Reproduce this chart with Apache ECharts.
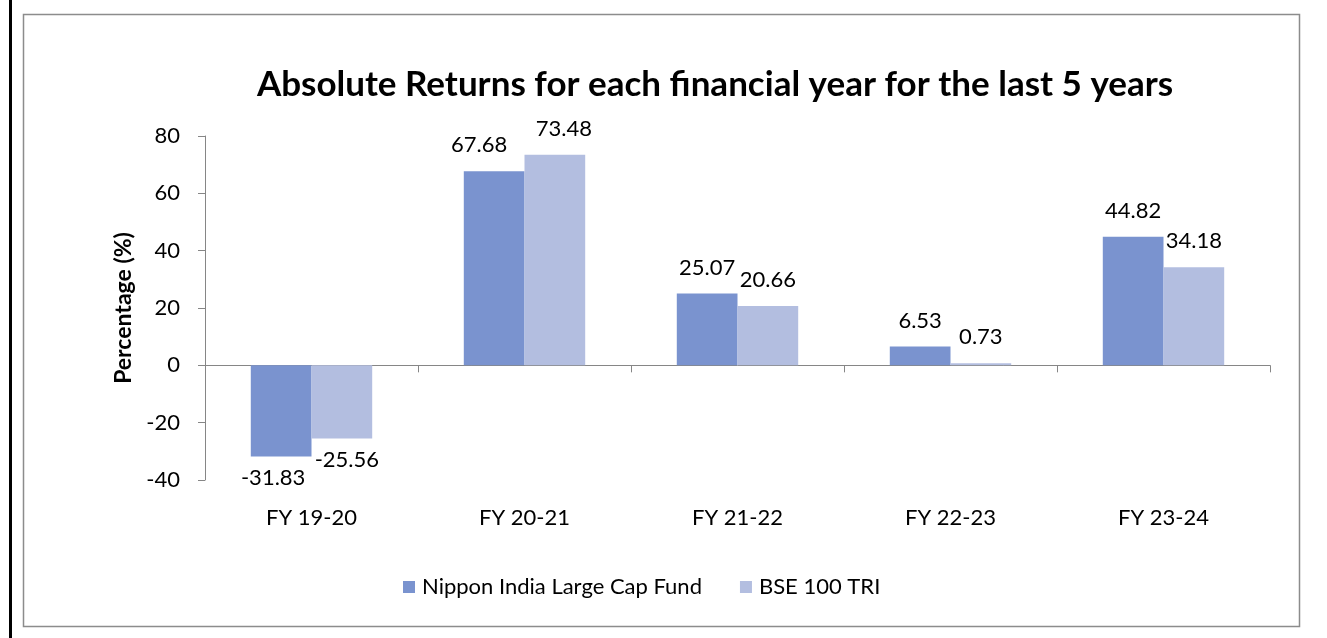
<!DOCTYPE html>
<html><head><meta charset="utf-8">
<script src="https://cdn.jsdelivr.net/npm/echarts@6/dist/echarts.min.js"></script>
<style>html,body{margin:0;padding:0;background:#fff}#c{width:1327px;height:638px}</style>
</head><body><div id="c"></div>
<script>
const categories = ['FY 19-20','FY 20-21','FY 21-22','FY 22-23','FY 23-24'];
const nipponValues = [-31.83, 67.68, 25.07, 6.53, 44.82];
const bseValues = [-25.56, 73.48, 20.66, 0.73, 34.18];
const seriesNames = ['Nippon India Large Cap Fund', 'BSE 100 TRI'];
const yTicks = [-40, -20, 0, 20, 40, 60, 80];

const FONT = 'Lato';
const FS = 22;
const chart = echarts.init(document.getElementById('c'));
function mk(vals, offX){
  return vals.map((v,i)=>{
    const o = {value:v, label:{}};
    if (v < 0) { o.label.position = 'bottom'; o.label.distance = 10; }
    if (offX[i]) o.label.offset = [offX[i],0];
    return o;
  });
}
const lbl = {show:true, fontFamily:FONT, fontSize:FS, color:'#000', distance:15, position:'top'};
chart.setOption({
  animation:false,
  textStyle:{fontFamily:FONT},
  graphic:[
    {type:'rect', shape:{x:9,y:0,width:3,height:638}, style:{fill:'#000'}},
    {type:'rect', shape:{x:23.5,y:14.5,width:1276,height:612}, style:{fill:'none',stroke:'#8c8c8c',lineWidth:1.5}}
  ],
  title:{text:'Absolute Returns for each financial year for the last 5 years', left:710, top:62, textAlign:'center',
    textStyle:{fontFamily:FONT, fontWeight:'bold', fontSize:35, color:'#000'}},
  legend:{bottom:35, left:398, itemWidth:12, itemHeight:12, itemGap:38, icon:'rect',
    textStyle:{fontFamily:FONT, fontSize:FS, color:'#000', padding:[0,0,0,2]}, data:seriesNames},
  grid:{left:205, right:57, top:136, bottom:158, containLabel:false},
  xAxis:[
    {type:'category', data:categories, axisLine:{onZero:true, lineStyle:{color:'#868686', width:1}},
     axisTick:{show:true, length:7, lineStyle:{color:'#868686'}}, axisLabel:{show:false}},
    {type:'category', data:categories, position:'bottom', axisLine:{show:false}, axisTick:{show:false},
     axisLabel:{fontFamily:FONT, fontSize:FS, color:'#000', margin:27}}
  ],
  yAxis:{type:'value', min:yTicks[0], max:yTicks[yTicks.length-1], interval:20,
    name:'Percentage (%)', nameLocation:'middle', nameGap:70, nameRotate:90,
    nameTextStyle:{fontFamily:FONT, fontWeight:'bold', fontSize:23, color:'#000'},
    axisLine:{show:true, lineStyle:{color:'#868686'}}, axisTick:{show:true, length:7, lineStyle:{color:'#868686'}},
    splitLine:{show:false}, axisLabel:{fontFamily:FONT, fontSize:FS, color:'#000', margin:25}},
  series:[
    {name:seriesNames[0], type:'bar', data:mk(nipponValues,[-8,-15,0,0,0]), barGap:'0%', barCategoryGap:'43%',
     itemStyle:{color:'#7a93cf'}, label:lbl},
    {name:seriesNames[1], type:'bar', data:mk(bseValues,[5,9,0,0,0]), barGap:'0%', barCategoryGap:'43%',
     itemStyle:{color:'#b3bee0'}, label:lbl}
  ]
});
</script></body></html>
